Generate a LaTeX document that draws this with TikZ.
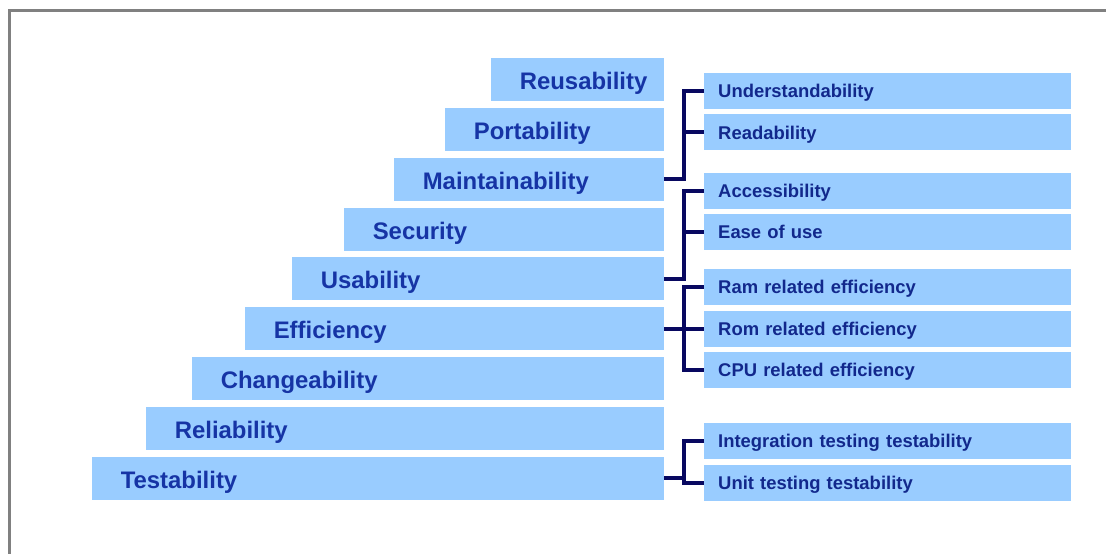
\documentclass[tikz,border=0pt]{standalone}
\usepackage{fontspec}
\setmainfont{Liberation Sans}
\usetikzlibrary{calc}
\definecolor{skyfill}{RGB}{153, 204, 255}
\definecolor{labelblue}{RGB}{22, 52, 165}
\definecolor{subblue}{RGB}{18, 40, 140}
\definecolor{navyline}{RGB}{8, 8, 96}
\definecolor{framegray}{RGB}{128, 128, 128}

\tikzset{
  stair/.style={fill=skyfill, anchor=east, minimum height=43bp, inner xsep=29bp, inner ysep=0pt,
                text height=20bp, text depth=0pt,
                align=left, text=labelblue, font=\fontsize{24}{26}\selectfont\bfseries},
  sub/.style={fill=skyfill, anchor=west, minimum height=36bp, inner xsep=14bp, inner ysep=0pt,
              text height=13.5bp, text depth=0pt,
              text width=339bp, align=left, text=subblue, font=\fontsize{18.5}{20}\selectfont\bfseries},
  link/.style={navyline, line width=4bp}
}

\begin{document}
\begin{tikzpicture}[x=1bp, y=-1bp]
            \useasboundingbox (0,0) rectangle (1106,554);
            \fill[white] (0,0) rectangle (1106,554);
            \draw[framegray, line width=3bp] (9.5,554) -- (9.5,10.5) -- (1106,10.5);
            % stairs
            \node[stair, text width=115bp] (reuse)  at (664, 80.00) {Reusability};
            \node[stair, text width=161bp] (port)   at (664,129.75) {Portability};
            \node[stair, text width=212bp] (maint)  at (664,179.50) {Maintainability};
            \node[stair, text width=262bp] (secur)  at (664,229.25) {Security};
            \node[stair, text width=314bp] (usab)   at (664,279.00) {Usability};
            \node[stair, text width=361bp] (effic)  at (664,328.75) {Efficiency};
            \node[stair, text width=414bp] (change) at (664,378.50) {Changeability};
            \node[stair, text width=460bp] (relia)  at (664,428.25) {Reliability};
            \node[stair, text width=514bp] (test)   at (664,478.00) {Testability};
            % sub attributes
            \node[sub] (under)  at (704, 91.00) {Understandability};
            \node[sub] (read)   at (704,132.50) {Readability};
            \node[sub] (access) at (704,191.00) {Accessibility};
            \node[sub] (ease)   at (704,232.00) {Ease of use};
            \node[sub] (ram)    at (704,287.00) {Ram related efficiency};
            \node[sub] (rom)    at (704,328.75) {Rom related efficiency};
            \node[sub] (cpu)    at (704,370.00) {CPU related efficiency};
            \node[sub] (integ)  at (704,441.00) {Integration testing testability};
            \node[sub] (unit)   at (704,483.00) {Unit testing testability};
            % brackets
            \coordinate (bx) at (684,0);
            \draw[link] (under.west)  -- (under.west -| bx)  |- (maint.east);
            \draw[link] (read.west)   -- (read.west -| bx);
            \draw[link] (access.west) -- (access.west -| bx) |- (usab.east);
            \draw[link] (ease.west)   -- (ease.west -| bx);
            \draw[link] (ram.west)    -- (ram.west -| bx)    |- (cpu.west);
            \draw[link] (effic.east)  -- (rom.west);
            \draw[link] (integ.west)  -- (integ.west -| bx)  |- (unit.west);
            \draw[link] (test.east)   -- (test.east -| bx);
\end{tikzpicture}
\end{document}
